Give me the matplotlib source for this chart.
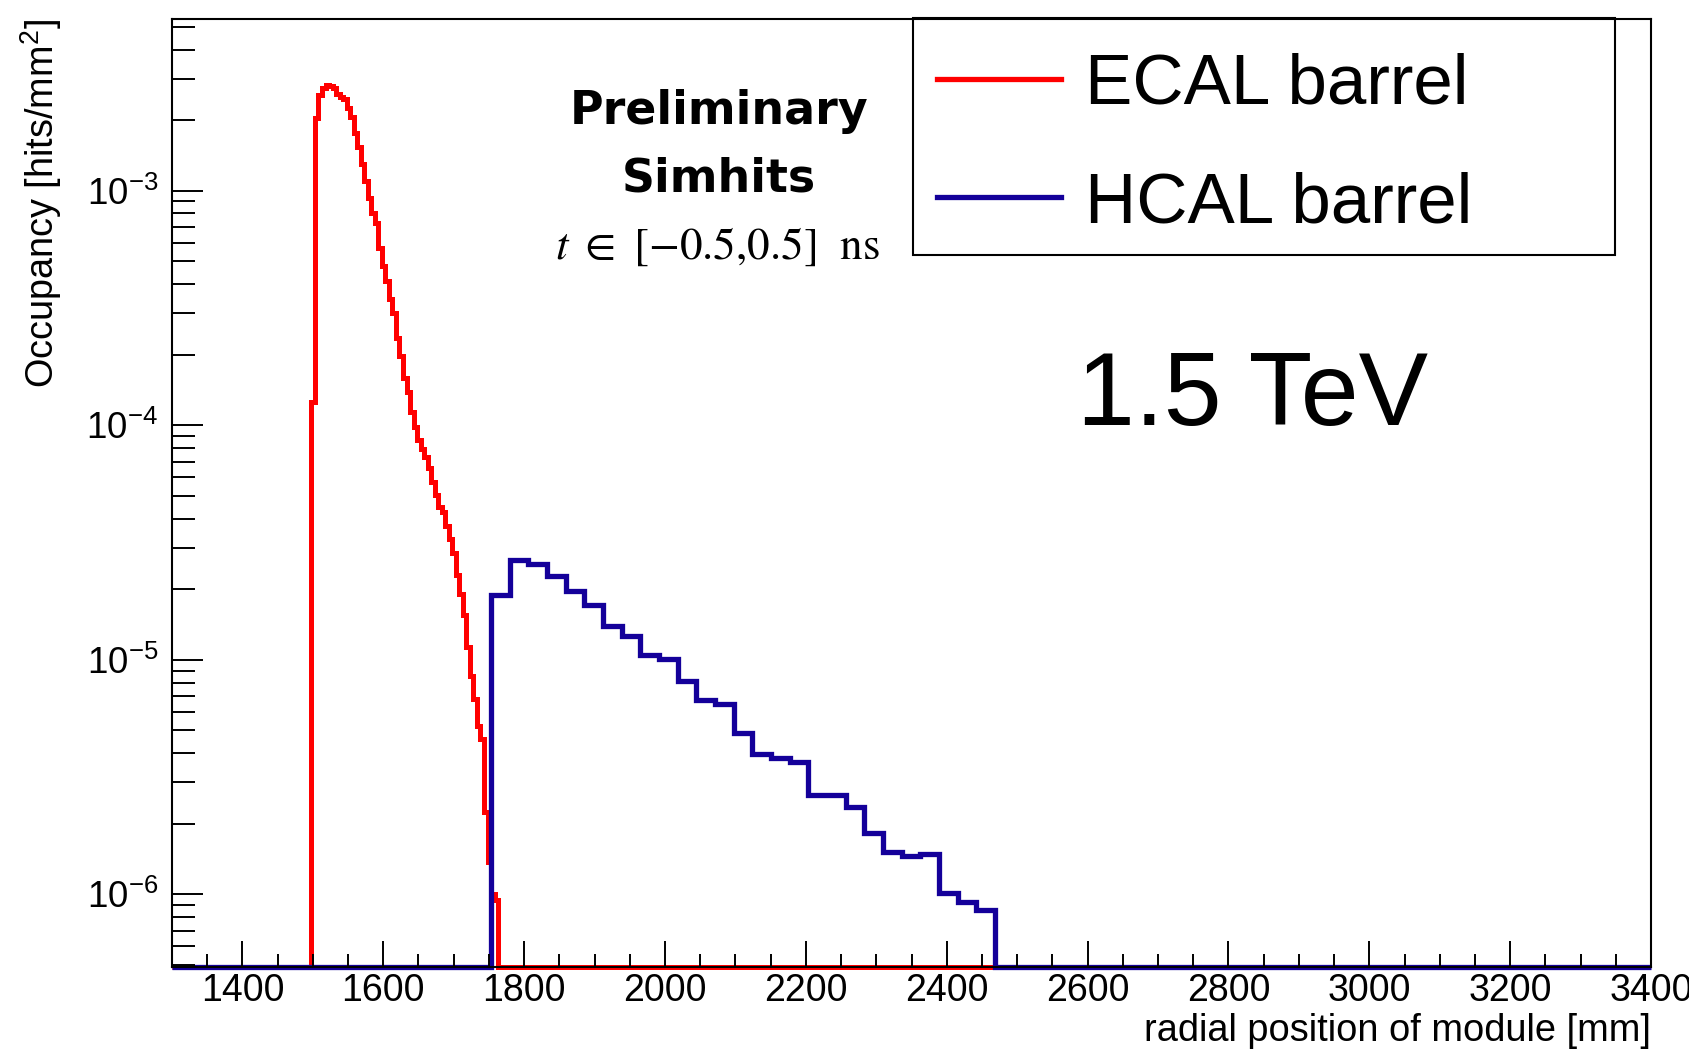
import numpy as np
import matplotlib
matplotlib.use('Agg')
import matplotlib.pyplot as plt
from matplotlib.patches import Rectangle
from matplotlib.lines import Line2D
from matplotlib.ticker import LogLocator, MultipleLocator, NullFormatter

W, H = 1689, 1054

# occupancy per radial bin [hits/mm^2]
ecal_occupancy = [
    1.26e-4, 2.04e-3, 2.56e-3, 2.74e-3, 2.82e-3, 2.79e-3, 2.74e-3, 2.58e-3, 2.51e-3, 2.45e-3,
    2.25e-3, 2.06e-3, 1.76e-3, 1.54e-3, 1.30e-3, 1.10e-3, 9.31e-4, 8.04e-4, 7.28e-4, 5.70e-4,
    4.78e-4, 4.12e-4, 3.46e-4, 3.01e-4, 2.36e-4, 1.98e-4, 1.59e-4, 1.39e-4, 1.14e-4, 9.86e-5,
    8.67e-5, 7.94e-5, 7.34e-5, 6.59e-5, 5.74e-5, 5.06e-5, 4.50e-5, 4.28e-5, 3.73e-5, 3.29e-5,
    2.86e-5, 2.29e-5, 1.90e-5, 1.56e-5, 1.13e-5, 8.57e-6, 6.78e-6, 5.20e-6, 4.58e-6, 2.24e-6,
    1.38e-6, 1.00e-6, 9.5e-7,
]
hcal_occupancy = [
    1.89e-5, 2.67e-5, 2.56e-5, 2.27e-5, 1.97e-5, 1.71e-5, 1.40e-5, 1.26e-5, 1.05e-5, 1.01e-5,
    8.1e-6, 6.73e-6, 6.45e-6, 4.89e-6, 3.98e-6, 3.83e-6, 3.68e-6, 2.66e-6, 2.66e-6, 2.36e-6,
    1.82e-6, 1.51e-6, 1.45e-6, 1.48e-6, 1.01e-6, 9.3e-7, 8.6e-7,
]
# binning [mm]
ecal_first_edge, ecal_bin_width = 1498.0, 5.0
hcal_first_edge, hcal_bin_width = 1753.0, 26.5
ecal_hist_range = (1300, 2500)
hcal_hist_range = (1300, 3400)

labels = ['ECAL barrel', 'HCAL barrel']
colors = ['#ff0000', '#14009a']
x_ticks = [1400, 1600, 1800, 2000, 2200, 2400, 2600, 2800, 3000, 3200, 3400]
x_lim = (1300, 3400)
y_lim = (4.9e-7, 5.4e-3)

plt.rcParams['font.family'] = ['Liberation Sans', 'DejaVu Sans']
plt.rcParams['mathtext.fontset'] = 'custom'
plt.rcParams['mathtext.rm'] = 'Liberation Sans'
plt.rcParams['mathtext.it'] = 'Liberation Sans:italic'
plt.rcParams['mathtext.bf'] = 'Liberation Sans:bold'


def full_hist(values, first, width, rng, floor):
    # empty bins sit on the bottom of the frame, like ROOT draws them in log y
    edges = first + width * np.arange(len(values) + 1)
    edges = np.concatenate([[rng[0]], edges, [rng[1]]])
    vals = np.concatenate([[floor], values, [floor]])
    return edges, vals


fig = plt.figure(figsize=(W / 100, H / 100), dpi=100)
ax = fig.add_axes([172 / W, 1 - 967 / H, (1651 - 172) / W, (967 - 19) / H])

e_edges, e_vals = full_hist(ecal_occupancy, ecal_first_edge, ecal_bin_width,
                            ecal_hist_range, y_lim[0])
h_edges, h_vals = full_hist(hcal_occupancy, hcal_first_edge, hcal_bin_width,
                            hcal_hist_range, y_lim[0])
ax.stairs(e_vals, e_edges, baseline=None, color=colors[0], lw=3.6, clip_on=False)
ax.stairs(h_vals, h_edges, baseline=None, color=colors[1], lw=3.8, clip_on=False)

ax.set_xlim(*x_lim)
ax.set_yscale('log')
ax.set_ylim(*y_lim)
ax.set_xticks(x_ticks)
ax.xaxis.set_minor_locator(MultipleLocator(50))
ax.yaxis.set_major_locator(LogLocator(base=10, numticks=12))
ax.yaxis.set_minor_locator(LogLocator(base=10, subs=np.arange(2, 10), numticks=40))
ax.yaxis.set_minor_formatter(NullFormatter())

for s in ax.spines.values():
    s.set_linewidth(1.5)
ax.tick_params(which='both', direction='in', top=False, right=False, width=1.4)
ax.tick_params(axis='x', which='major', length=19, labelsize=27, pad=4)
ax.tick_params(axis='x', which='minor', length=9.5)
ax.tick_params(axis='y', which='major', length=22, labelsize=26.5, pad=10)
ax.tick_params(axis='y', which='minor', length=16.5)

# axis titles, ROOT style (top / right aligned)
fig.text(41 / W, 1 - 19 / H, 'Occupancy [hits/mm$^2$]', rotation=90,
         ha='center', va='top', fontsize=27.3)
fig.text(1651 / W, 1 - 1031 / H, 'radial position of module [mm]',
         ha='right', va='center', fontsize=27.4)

# annotations
fig.text(719 / W, 1 - 112 / H, 'Preliminary', ha='center', va='center',
         fontsize=33, family='DejaVu Sans', fontweight='bold')
fig.text(719 / W, 1 - 179 / H, 'Simhits', ha='center', va='center',
         fontsize=33, family='DejaVu Sans', fontweight='bold')
fig.text(718 / W, 1 - 247 / H, r'$t\ \in\ [-0.5{,}0.5]\ \ \mathrm{ns}$',
         ha='center', va='center', fontsize=32.5, math_fontfamily='stix')
fig.text(1077 / W, 1 - 425 / H, '1.5 TeV', ha='left', va='baseline', fontsize=75)

# legend box drawn by hand to match the ROOT TLegend
fig.add_artist(Rectangle((913.5 / W, 1 - 255 / H), (1614.7 - 913.5) / W, (255 - 18) / H,
                         transform=fig.transFigure, fill=False, ec='black', lw=1.5))
for i, (lab, col) in enumerate(zip(labels, colors)):
    yc = 78.6 + i * 118.4
    fig.add_artist(Line2D([937 / W, 1061 / W], [1 - yc / H] * 2,
                          transform=fig.transFigure, color=col, lw=3.8))
    fig.text(1085 / W, 1 - (yc + 25) / H, lab, ha='left', va='baseline', fontsize=51)

fig.savefig('out.png', dpi=100)
